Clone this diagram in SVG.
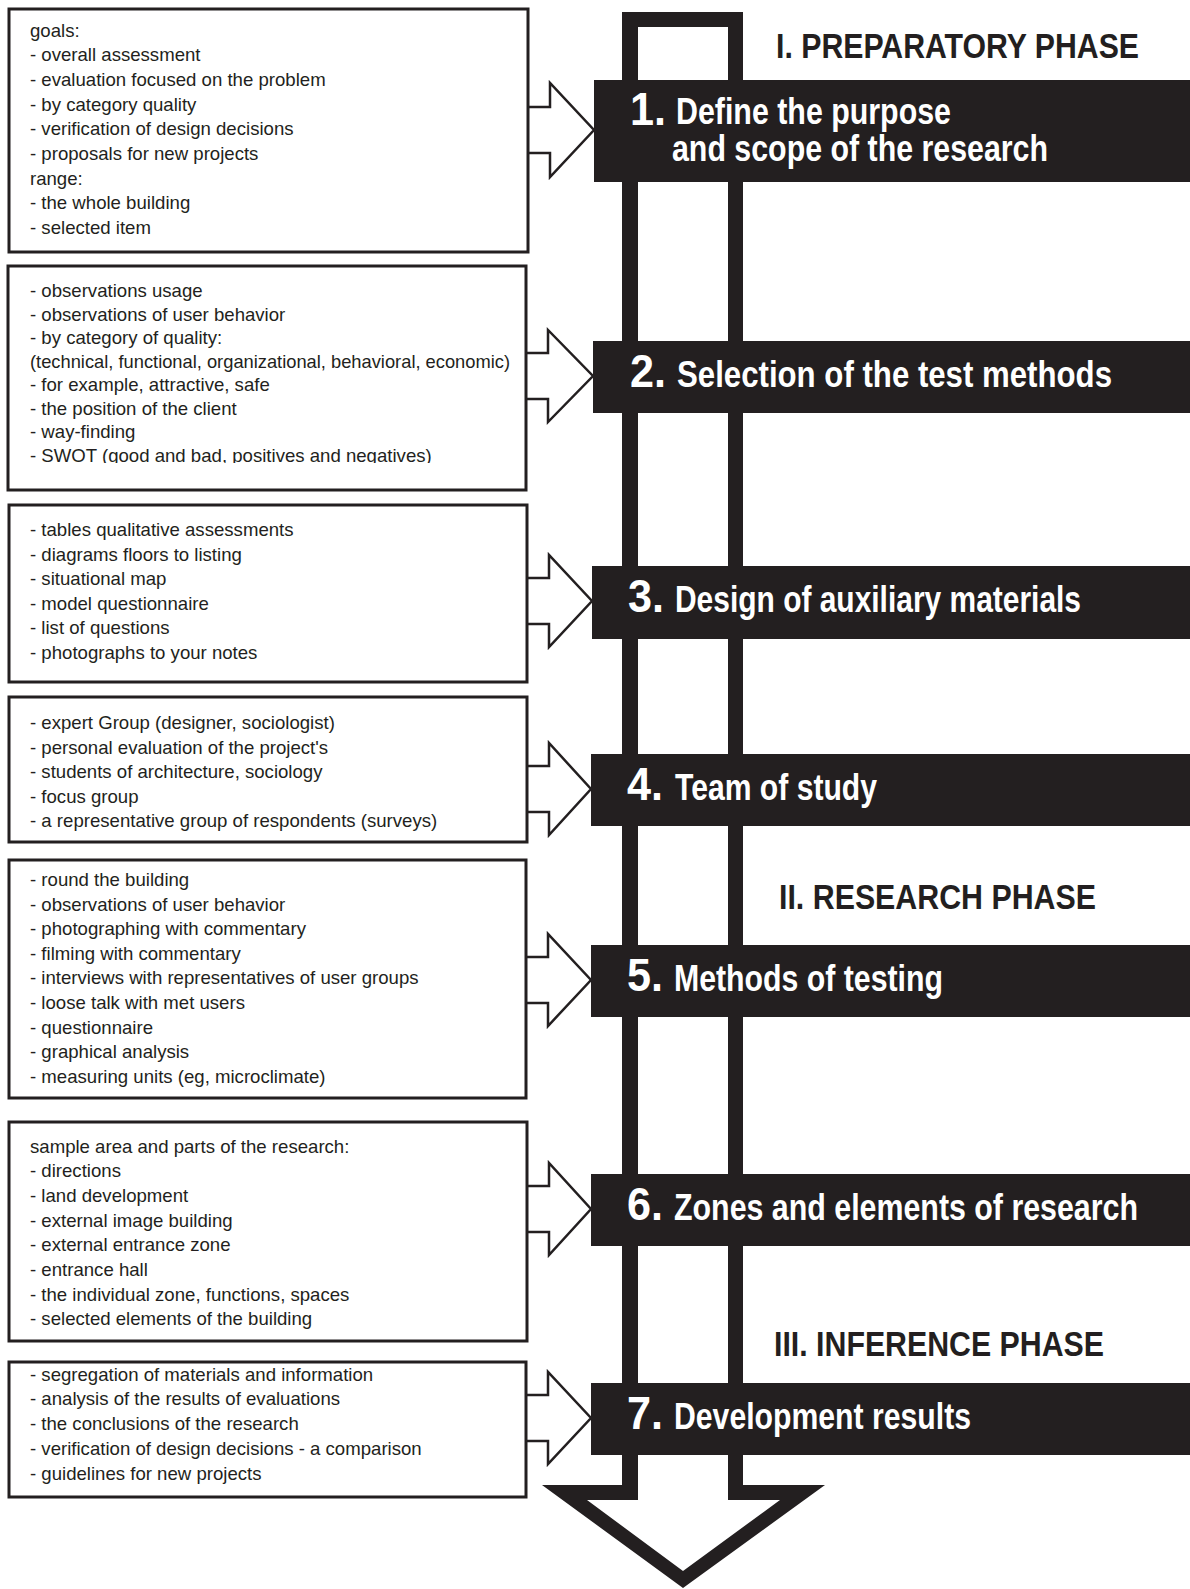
<svg xmlns="http://www.w3.org/2000/svg" width="1190" height="1589" viewBox="0 0 1190 1589">
  <defs>
    <style>
      .box { fill: #ffffff; stroke: #231f20; stroke-width: 3; }
      .note { font-family: "Liberation Sans", Arial, sans-serif; font-size: 18.6px; fill: #231f20; }
      .bar { fill: #231f20; }
      .num { font-family: "Liberation Sans Narrow", "Liberation Sans", Arial, sans-serif; font-weight: bold; font-size: 46px; fill: #ffffff; }
      .title { font-family: "Liberation Sans Narrow", "Liberation Sans", Arial, sans-serif; font-weight: bold; font-size: 36.5px; fill: #ffffff; }
      .phase { font-family: "Liberation Sans Narrow", "Liberation Sans", Arial, sans-serif; font-weight: bold; font-size: 35.5px; fill: #231f20; }
      .link { fill: #ffffff; stroke: #231f20; stroke-width: 2.5; stroke-linejoin: miter; }
      .spine { fill: #231f20; fill-rule: evenodd; }
    </style>
    <clipPath id="clipBox2">
      <rect x="8" y="268" width="518" height="195"/>
    </clipPath>
  </defs>

  <rect width="1190" height="1589" fill="#ffffff"/>

  <!-- hollow process arrow running down the whole sequence -->
  <g id="spine">
    <path class="spine" d="M622,12 L743,12 L743,1485 L825,1485 L683,1588 L542,1485 L622,1485 Z
                           M638,27 L638,1500 L587,1500 L683,1571 L780,1500 L728,1500 L728,27 Z"/>
  </g>

  <!-- phase headings -->
  <g id="phases">
    <text class="phase" x="776" y="57.5" textLength="363" lengthAdjust="spacingAndGlyphs">I. PREPARATORY PHASE</text>
    <text class="phase" x="779" y="909" textLength="317" lengthAdjust="spacingAndGlyphs">II. RESEARCH PHASE</text>
    <text class="phase" x="774" y="1356" textLength="330" lengthAdjust="spacingAndGlyphs">III. INFERENCE PHASE</text>
  </g>

  <!-- connectors: hollow arrows from each note box into its step -->
  <g id="connectors">
    <path class="link" d="M528,107 H550 V83 L594,130 L550,177 V153 H528"/>
    <path class="link" d="M526,353 H548 V330 L593,376 L548,422 V399 H526"/>
    <path class="link" d="M527,578 H549 V555 L592,601 L549,647 V624 H527"/>
    <path class="link" d="M527,766 H549 V743 L591,789 L549,835 V812 H527"/>
    <path class="link" d="M526,957 H548 V934 L591,980 L548,1026 V1003 H526"/>
    <path class="link" d="M527,1186 H549 V1163 L591,1209 L549,1255 V1232 H527"/>
    <path class="link" d="M526,1395 H548 V1372 L591,1418 L548,1464 V1441 H526"/>
  </g>

  <!-- steps -->
  <g id="step1">
    <rect class="bar" x="594" y="80" width="596" height="102"/>
    <text class="num" x="630" y="125" textLength="36" lengthAdjust="spacingAndGlyphs">1.</text>
    <text class="title" x="676" y="124" textLength="275" lengthAdjust="spacingAndGlyphs">Define the purpose</text>
    <text class="title" x="672" y="161" textLength="376" lengthAdjust="spacingAndGlyphs">and scope of the research</text>
  </g>
  <g id="step2">
    <rect class="bar" x="593" y="341" width="597" height="72"/>
    <text class="num" x="630" y="387" textLength="36" lengthAdjust="spacingAndGlyphs">2.</text>
    <text class="title" x="677" y="387" textLength="435" lengthAdjust="spacingAndGlyphs">Selection of the test methods</text>
  </g>
  <g id="step3">
    <rect class="bar" x="592" y="566" width="598" height="73"/>
    <text class="num" x="628" y="612" textLength="36" lengthAdjust="spacingAndGlyphs">3.</text>
    <text class="title" x="675" y="612" textLength="406" lengthAdjust="spacingAndGlyphs">Design of auxiliary materials</text>
  </g>
  <g id="step4">
    <rect class="bar" x="591" y="754" width="599" height="72"/>
    <text class="num" x="627" y="800" textLength="36" lengthAdjust="spacingAndGlyphs">4.</text>
    <text class="title" x="675" y="800" textLength="202" lengthAdjust="spacingAndGlyphs">Team of study</text>
  </g>
  <g id="step5">
    <rect class="bar" x="591" y="945" width="599" height="72"/>
    <text class="num" x="627" y="991" textLength="36" lengthAdjust="spacingAndGlyphs">5.</text>
    <text class="title" x="674" y="991" textLength="269" lengthAdjust="spacingAndGlyphs">Methods of testing</text>
  </g>
  <g id="step6">
    <rect class="bar" x="591" y="1174" width="599" height="72"/>
    <text class="num" x="627" y="1220" textLength="36" lengthAdjust="spacingAndGlyphs">6.</text>
    <text class="title" x="674" y="1220" textLength="464" lengthAdjust="spacingAndGlyphs">Zones and elements of research</text>
  </g>
  <g id="step7">
    <rect class="bar" x="591" y="1383" width="599" height="72"/>
    <text class="num" x="627" y="1429" textLength="36" lengthAdjust="spacingAndGlyphs">7.</text>
    <text class="title" x="674" y="1429" textLength="297" lengthAdjust="spacingAndGlyphs">Development results</text>
  </g>

  <!-- note boxes -->
  <g id="notes1">
    <rect class="box" x="9" y="9" width="519" height="243"/>
    <text class="note" x="30" y="36.5">goals:</text>
    <text class="note" x="30" y="61.2">- overall assessment</text>
    <text class="note" x="30" y="85.9">- evaluation focused on the problem</text>
    <text class="note" x="30" y="110.6">- by category quality</text>
    <text class="note" x="30" y="135.3">- verification of design decisions</text>
    <text class="note" x="30" y="160">- proposals for new projects</text>
    <text class="note" x="30" y="184.7">range:</text>
    <text class="note" x="30" y="209.4">- the whole building</text>
    <text class="note" x="30" y="234.1">- selected item</text>
  </g>
  <g id="notes2">
    <rect class="box" x="8" y="266" width="518" height="224"/>
    <g clip-path="url(#clipBox2)">
      <text class="note" x="30" y="297">- observations usage</text>
      <text class="note" x="30" y="320.5">- observations of user behavior</text>
      <text class="note" x="30" y="344">- by category of quality:</text>
      <text class="note" x="30" y="367.5" textLength="480" lengthAdjust="spacingAndGlyphs">(technical, functional, organizational, behavioral, economic)</text>
      <text class="note" x="30" y="391">- for example, attractive, safe</text>
      <text class="note" x="30" y="414.5">- the position of the client</text>
      <text class="note" x="30" y="438">- way-finding</text>
      <text class="note" x="30" y="461.5">- SWOT (good and bad, positives and negatives)</text>
    </g>
  </g>
  <g id="notes3">
    <rect class="box" x="9" y="505" width="518" height="177"/>
    <text class="note" x="30" y="536">- tables qualitative assessments</text>
    <text class="note" x="30" y="560.6">- diagrams floors to listing</text>
    <text class="note" x="30" y="585.2">- situational map</text>
    <text class="note" x="30" y="609.8">- model questionnaire</text>
    <text class="note" x="30" y="634.4">- list of questions</text>
    <text class="note" x="30" y="659">- photographs to your notes</text>
  </g>
  <g id="notes4">
    <rect class="box" x="9" y="697" width="518" height="145"/>
    <text class="note" x="30" y="729">- expert Group (designer, sociologist)</text>
    <text class="note" x="30" y="753.6">- personal evaluation of the project's</text>
    <text class="note" x="30" y="778.2">- students of architecture, sociology</text>
    <text class="note" x="30" y="802.8">- focus group</text>
    <text class="note" x="30" y="827.4">- a representative group of respondents (surveys)</text>
  </g>
  <g id="notes5">
    <rect class="box" x="9" y="860" width="517" height="238"/>
    <text class="note" x="30" y="886">- round the building</text>
    <text class="note" x="30" y="910.6">- observations of user behavior</text>
    <text class="note" x="30" y="935.2">- photographing with commentary</text>
    <text class="note" x="30" y="959.8">- filming with commentary</text>
    <text class="note" x="30" y="984.4">- interviews with representatives of user groups</text>
    <text class="note" x="30" y="1009">- loose talk with met users</text>
    <text class="note" x="30" y="1033.6">- questionnaire</text>
    <text class="note" x="30" y="1058.2">- graphical analysis</text>
    <text class="note" x="30" y="1082.8">- measuring units (eg, microclimate)</text>
  </g>
  <g id="notes6">
    <rect class="box" x="9" y="1122" width="518" height="219"/>
    <text class="note" x="30" y="1152.5">sample area and parts of the research:</text>
    <text class="note" x="30" y="1177.2">- directions</text>
    <text class="note" x="30" y="1201.9">- land development</text>
    <text class="note" x="30" y="1226.6">- external image building</text>
    <text class="note" x="30" y="1251.3">- external entrance zone</text>
    <text class="note" x="30" y="1276">- entrance hall</text>
    <text class="note" x="30" y="1300.7">- the individual zone, functions, spaces</text>
    <text class="note" x="30" y="1325.4">- selected elements of the building</text>
  </g>
  <g id="notes7">
    <rect class="box" x="9" y="1362" width="517" height="135"/>
    <text class="note" x="30" y="1380.5">- segregation of materials and information</text>
    <text class="note" x="30" y="1405.3">- analysis of the results of evaluations</text>
    <text class="note" x="30" y="1430.1">- the conclusions of the research</text>
    <text class="note" x="30" y="1454.9">- verification of design decisions - a comparison</text>
    <text class="note" x="30" y="1479.7">- guidelines for new projects</text>
  </g>
</svg>
